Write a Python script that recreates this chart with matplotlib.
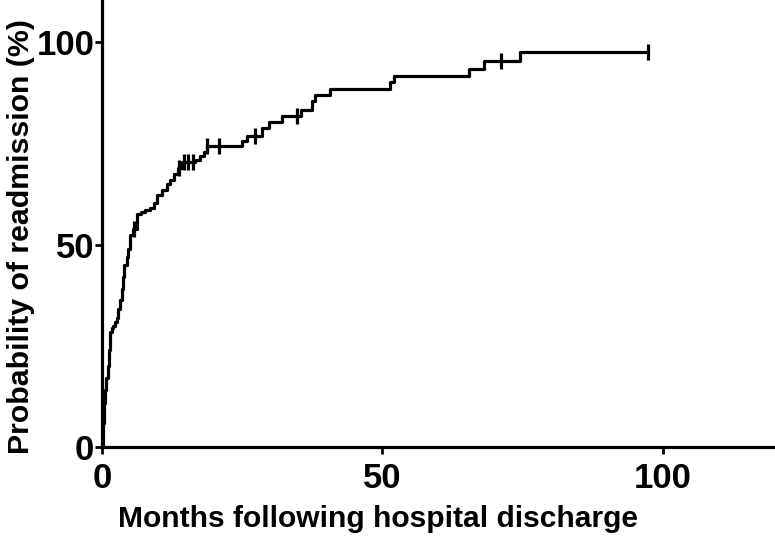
import numpy as np
import matplotlib.pyplot as plt

plt.rcParams['font.family'] = ['Liberation Sans', 'DejaVu Sans']
plt.rcParams['font.weight'] = 'bold'

# Kaplan-Meier style cumulative readmission (step levels)
months = [0, 0.2, 0.4, 0.6, 0.8, 1.0, 1.2, 1.4, 1.7, 2.0, 2.3, 2.6, 2.9, 3.2,
          3.5, 3.8, 4.0, 4.4, 4.7, 5.0, 5.5, 6.2, 7.0, 7.7, 8.6, 9.2, 9.8,
          10.7, 11.6, 12.1, 12.8, 13.5, 14.3, 16.5, 17.5, 18.1, 18.7, 24.9,
          25.8, 28.5, 29.7, 32.1, 35.4, 37.4, 38.0, 40.7, 51.4, 52.0, 65.4,
          68.1, 74.6, 97.3]
prob = [0, 6, 11, 14, 17, 20, 24, 28.5, 29.5, 30, 31, 32, 34, 36.4,
        39, 42, 45, 47, 49, 52.5, 54, 57.5, 58, 58.5, 59, 60.3, 62.4,
        63.6, 64.9, 66.1, 67.5, 69, 70.5, 71, 72, 73, 74.3, 75.6,
        77, 78.8, 80.3, 81.9, 83.4, 85.5, 87.1, 88.5, 90.2, 91.8, 93.5,
        95.3, 97.7, 97.7]
censored = [5.7, 13.8, 14.6, 15.4, 16.2, 18.7, 20.8, 27.3, 34.8, 71.2, 97.3]

fig = plt.figure(figsize=(7.75, 5.4), dpi=100)
ax = fig.add_axes([102 / 775, 93 / 540, 673 / 775, 447 / 540])

ax.plot(months, prob, drawstyle='steps-post', color='black', lw=2.3)

# censor marks sit on the curve
idx = np.searchsorted(months, censored, side='right') - 1
ax.plot(censored, np.array(prob)[idx], ls='none', marker='|', ms=11,
        mew=2.3, color='black')

ax.set_xlim(0, 120)
ax.set_ylim(0, 110.5)
ax.set_xticks([0, 50, 100])
ax.set_yticks([0, 50, 100])

for side in ['top', 'right']:
    ax.spines[side].set_visible(False)
for side in ['left', 'bottom']:
    ax.spines[side].set_linewidth(2.3)
ax.tick_params(width=2.0, length=5, labelsize=25)
ax.tick_params(axis='x', pad=6)
ax.tick_params(axis='y', pad=0.5)

ax.set_xlabel('Months following hospital discharge', fontsize=21.6,
              fontweight='bold')
ax.set_ylabel('Probability of readmission (%)', fontsize=21.8,
              fontweight='bold')
ax.xaxis.set_label_coords(0.41, -0.13)
ax.yaxis.set_label_coords(-0.1, 0.47)

plt.savefig('out.png', dpi=100)
plt.close('all')
